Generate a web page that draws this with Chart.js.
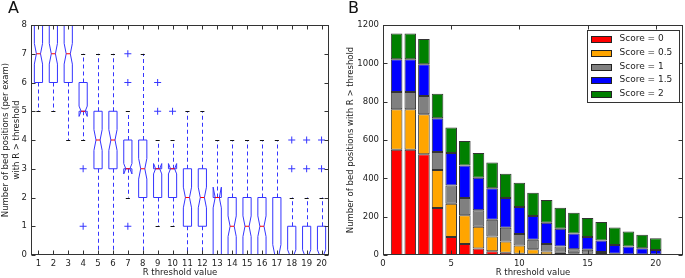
<!DOCTYPE html>
<html>
<head>
<meta charset="utf-8">
<script src="https://cdn.jsdelivr.net/npm/chart.js@4.4.1/dist/chart.umd.min.js"></script>
<style>
  body { margin: 0; background: #fff; }
  #wrap { position: relative; width: 685px; height: 278px; overflow: hidden; }
  canvas { position: absolute; top: 0; }
  .tag { position: absolute; top: -2px; font: 16px "DejaVu Sans"; color: #111; }
</style>
</head>
<body>
<div id="wrap">
  <canvas id="boxChart" width="340" height="278" style="left:0"></canvas>
  <canvas id="barChart" width="345" height="278" style="left:340px"></canvas>
  <div class="tag" style="left:8px">A</div>
  <div class="tag" style="left:348px">B</div>
</div>
<script>
// panel A - box plot stats per R threshold
const thresholds = [1, 2, 3, 4, 5, 6, 7, 8, 9, 10, 11, 12, 13, 14, 15, 16, 17, 18, 19, 20];
const q1 =          [6, 6, 6, 5, 3, 3, 3, 2, 2, 2, 1, 1, 0, 0, 0, 0, 0, 0, 0, 0];
const medians =     [7, 7, 7, 5, 4, 4, 3, 3, 3, 3, 2, 2, 2, 1, 1, 1, 0, 0, 0, 0];
const q3 =          [8, 8, 8, 6, 5, 5, 4, 4, 3, 3, 3, 3, 2, 2, 2, 2, 2, 1, 1, 1];
const whiskerLow =  [5, 5, 4, 4, 0, 0, 2, 0, 1, 1, 0, 0, 0, 0, 0, 0, 0, 0, 0, 0];
const whiskerHigh = [8, 8, 8, 7, 7, 7, 5, 7, 4, 4, 5, 5, 4, 4, 4, 4, 4, 2, 2, 2];
const outliers = [[], [], [], [3, 1], [], [], [7, 6, 1], [], [6, 5], [5],
                  [], [], [], [], [], [], [], [3, 4], [3, 4], [3, 4]];
const examCount = 76;
const yTicksA = [0, 1, 2, 3, 4, 5, 6, 7, 8];

// panel B - stacked counts per score
const score0  = [549, 549, 526, 245, 94, 58, 34, 19, 12, 7, 3, 2, 1, 1, 1, 1, 0, 0, 0, 0];
const score05 = [212, 212, 209, 198, 174, 149, 113, 78, 59, 43, 27, 16, 11, 8, 6, 4, 2, 1, 1, 1];
const score1  = [90, 90, 94, 94, 95, 90, 87, 87, 71, 60, 50, 40, 32, 21, 20, 11, 4, 2, 2, 2];
const score15 = [170, 170, 166, 176, 169, 170, 169, 164, 155, 141, 123, 110, 93, 82, 67, 60, 46, 41, 32, 23];
const score2  = [135, 135, 132, 128, 133, 128, 129, 134, 127, 126, 122, 119, 109, 109, 99, 96, 91, 78, 71, 62];
const scoreLabels = ['Score = 0', 'Score = 0.5', 'Score = 1', 'Score = 1.5', 'Score = 2'];
const scoreColors = ['#ff0000', '#ffa500', '#808080', '#0000ff', '#008000'];
const xTicksB = [0, 5, 10, 15, 20];
const yTicksB = [0, 200, 400, 600, 800, 1000, 1200];

Chart.defaults.font.family = '"DejaVu Sans"';
Chart.defaults.font.size = 8.5;
Chart.defaults.color = '#222';

const boxBlue = '#3535ff';
const boxWidth = 0.55;
const plainLabel = v => String(v);

// draws the notched boxes, whiskers, caps and medians
const boxPlugin = {
  id: 'boxes',
  afterDatasetsDraw(chart) {
    const { ctx, chartArea: a, scales: { x, y } } = chart;
    ctx.save();
    ctx.beginPath();
    ctx.rect(a.left, a.top, a.width, a.height);
    ctx.clip();
    ctx.lineWidth = 1;
    thresholds.forEach((t, i) => {
      const cx = x.getPixelForValue(t);
      const half = x.getPixelForValue(t + boxWidth / 2) - cx;
      const L = cx - half, R = cx + half, cL = cx - half / 2, cR = cx + half / 2;
      const notch = 1.57 * (q3[i] - q1[i]) / Math.sqrt(examCount);
      const yq1 = y.getPixelForValue(q1[i]);
      const yq3 = y.getPixelForValue(q3[i]);
      const ymed = y.getPixelForValue(medians[i]);
      const yLo = y.getPixelForValue(medians[i] - notch);
      const yHi = y.getPixelForValue(medians[i] + notch);
      const cxs = Math.round(cx) + 0.5;

      // whiskers
      ctx.strokeStyle = boxBlue;
      ctx.setLineDash([4, 3]);
      ctx.beginPath();
      ctx.moveTo(cxs, yq1);
      ctx.lineTo(cxs, y.getPixelForValue(whiskerLow[i]));
      ctx.moveTo(cxs, yq3);
      ctx.lineTo(cxs, y.getPixelForValue(whiskerHigh[i]));
      ctx.stroke();
      ctx.setLineDash([]);

      // caps
      ctx.strokeStyle = '#111';
      ctx.beginPath();
      [whiskerLow[i], whiskerHigh[i]].forEach(v => {
        const yy = Math.round(y.getPixelForValue(v)) + 0.5;
        ctx.moveTo(cL, yy);
        ctx.lineTo(cR, yy);
      });
      ctx.stroke();

      // notched box
      ctx.strokeStyle = boxBlue;
      ctx.beginPath();
      ctx.moveTo(L, yq1);
      ctx.lineTo(R, yq1);
      ctx.lineTo(R, yLo);
      ctx.lineTo(cR, ymed);
      ctx.lineTo(R, yHi);
      ctx.lineTo(R, yq3);
      ctx.lineTo(L, yq3);
      ctx.lineTo(L, yHi);
      ctx.lineTo(cL, ymed);
      ctx.lineTo(L, yLo);
      ctx.closePath();
      ctx.stroke();

      // median
      ctx.strokeStyle = '#ff0000';
      ctx.beginPath();
      ctx.moveTo(cL, ymed);
      ctx.lineTo(cR, ymed);
      ctx.stroke();
    });
    ctx.restore();
  }
};

// axes frame with inward ticks on all four sides
const framePlugin = {
  id: 'frame',
  afterDraw(chart) {
    const { ctx, chartArea: a, scales: { x, y } } = chart;
    const l = Math.round(a.left) + 0.5, r = Math.round(a.right) - 0.5;
    const t = Math.round(a.top) + 0.5, b = Math.round(a.bottom) - 0.5;
    ctx.save();
    ctx.strokeStyle = '#333';
    ctx.lineWidth = 1;
    ctx.beginPath();
    x.ticks.forEach(tk => {
      const px = Math.round(x.getPixelForValue(tk.value)) + 0.5;
      ctx.moveTo(px, b); ctx.lineTo(px, b - 4);
      ctx.moveTo(px, t); ctx.lineTo(px, t + 4);
    });
    y.ticks.forEach(tk => {
      const py = Math.round(y.getPixelForValue(tk.value)) + 0.5;
      ctx.moveTo(l, py); ctx.lineTo(l + 4, py);
      ctx.moveTo(r, py); ctx.lineTo(r - 4, py);
    });
    ctx.stroke();
    ctx.strokeRect(l, t, r - l, b - t);
    ctx.restore();
  }
};

// boxed legend in the upper right of panel B
const legendPlugin = {
  id: 'boxLegend',
  afterDraw(chart) {
    const { ctx, chartArea: a } = chart;
    const sets = chart.data.datasets;
    const w = 92, rowH = 13.8, h = 72;
    const left = Math.round(a.right - w - 4) + 0.5, top = Math.round(a.top + 5) + 0.5;
    ctx.save();
    ctx.fillStyle = '#fff';
    ctx.fillRect(left, top, w, h);
    ctx.strokeStyle = '#333';
    ctx.lineWidth = 1;
    ctx.strokeRect(left, top, w, h);
    ctx.font = '9px "DejaVu Sans"';
    ctx.textBaseline = 'middle';
    sets.forEach((ds, i) => {
      const yy = Math.round(top + 8.5 + i * rowH);
      ctx.fillStyle = ds.backgroundColor;
      ctx.fillRect(left + 4, yy - 3, 20, 6);
      ctx.strokeStyle = '#222';
      ctx.strokeRect(left + 4, yy - 3 + 0.5, 20, 6);
      ctx.fillStyle = '#222';
      ctx.fillText(ds.label, left + 32, yy);
    });
    ctx.restore();
  }
};

const outlierPoints = [];
thresholds.forEach((t, i) => {
  outliers[i].forEach(v => outlierPoints.push({ x: t, y: v }));
});

new Chart(document.getElementById('boxChart'), {
  type: 'scatter',
  data: {
    datasets: [{
      data: outlierPoints,
      pointStyle: 'cross',
      pointRadius: 3.5,
      borderColor: boxBlue,
      borderWidth: 1
    }]
  },
  options: {
    responsive: false,
    animation: false,
    layout: { padding: { top: 25, right: 11, left: 0, bottom: 0 } },
    plugins: { legend: { display: false }, tooltip: { enabled: false } },
    scales: {
      x: {
        type: 'linear', min: 0.5, max: 20.5,
        afterBuildTicks: s => { s.ticks = thresholds.map(v => ({ value: v })); },
        afterFit: s => { s.height = 23; },
        grid: { display: false, drawTicks: false },
        border: { display: false },
        ticks: { padding: 4, autoSkip: false, maxRotation: 0, callback: plainLabel },
        title: { display: true, text: 'R threshold value', padding: { top: 0, bottom: 0 } }
      },
      y: {
        min: 0, max: 8,
        afterBuildTicks: s => { s.ticks = yTicksA.map(v => ({ value: v })); },
        afterFit: s => { s.width = 31; },
        grid: { display: false, drawTicks: false },
        border: { display: false },
        ticks: { padding: 4, callback: plainLabel },
        title: {
          display: true,
          text: ['Number of bed positions (per exam)', 'with R > threshold'],
          padding: { top: 1, bottom: 0 }
        }
      }
    }
  },
  plugins: [boxPlugin, framePlugin]
});

const scoreSeries = [score0, score05, score1, score15, score2];

new Chart(document.getElementById('barChart'), {
  type: 'bar',
  data: {
    datasets: scoreSeries.map((vals, k) => ({
      label: scoreLabels[k],
      data: thresholds.map((t, i) => ({ x: t, y: vals[i] })),
      backgroundColor: scoreColors[k],
      borderColor: '#333',
      borderWidth: 1,
      borderSkipped: false,
      barPercentage: 0.85,
      categoryPercentage: 1
    }))
  },
  options: {
    responsive: false,
    animation: false,
    layout: { padding: { top: 25, right: 2, left: 0, bottom: 0 } },
    plugins: { legend: { display: false }, tooltip: { enabled: false } },
    scales: {
      x: {
        type: 'linear', min: 0, max: 22, stacked: true, offset: false,
        afterBuildTicks: s => { s.ticks = xTicksB.map(v => ({ value: v })); },
        afterFit: s => { s.height = 23; },
        grid: { display: false, drawTicks: false },
        border: { display: false },
        ticks: { padding: 4, autoSkip: false, maxRotation: 0, callback: plainLabel },
        title: { display: true, text: 'R threshold value', padding: { top: 0, bottom: 0 } }
      },
      y: {
        min: 0, max: 1200, stacked: true,
        afterBuildTicks: s => { s.ticks = yTicksB.map(v => ({ value: v })); },
        afterFit: s => { s.width = 43; },
        grid: { display: false, drawTicks: false },
        border: { display: false },
        ticks: { padding: 4, callback: plainLabel },
        title: {
          display: true,
          text: 'Number of bed positions with R > threshold',
          padding: { top: 6, bottom: 0 }
        }
      }
    }
  },
  plugins: [framePlugin, legendPlugin]
});
</script>
</body>
</html>
